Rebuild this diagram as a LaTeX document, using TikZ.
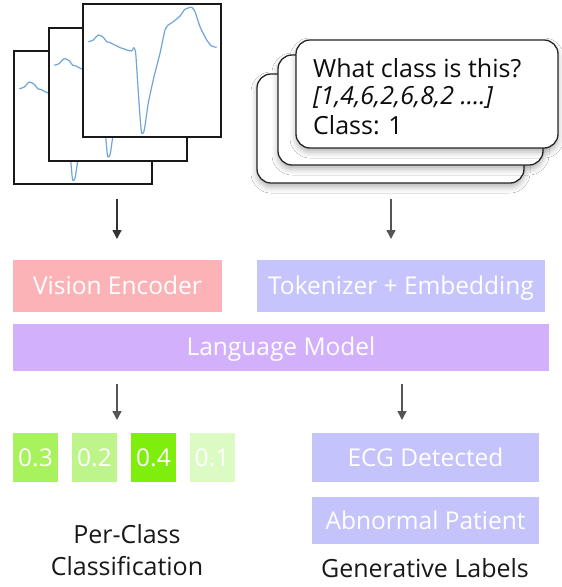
\documentclass[tikz,border=0pt]{standalone}
\usepackage{fontspec}
\setmainfont{Open Sans}
\usetikzlibrary{arrows.meta,shadows.blur}
\definecolor{pinkbox}{HTML}{FBB3B8}
\definecolor{tokbox}{HTML}{C6C4FD}
\definecolor{lmbox}{HTML}{D3B0FB}
\definecolor{genbox}{HTML}{C4C3FC}
\definecolor{gA}{HTML}{A8F25E}
\definecolor{gB}{HTML}{BDF58A}
\definecolor{gC}{HTML}{80EE0C}
\definecolor{gD}{HTML}{DBFBC3}
\definecolor{ecgblue}{HTML}{6FA6DA}
\definecolor{arrgray}{HTML}{555555}
\newcommand\ecgtrace{plot[smooth,tension=0.35] coordinates {(5.3,37.7) (8,37) (10.3,36) (13,33) (15.3,31) (17,31.5) (20.3,33.3) (23.7,37.7) (27,38.5) (30.3,40.3) (34,42) (37,43.7) (40,44.5) (43.7,46) (48.7,47) (51,43.7) (52.7,49.3) (54.7,79) (57,112.7) (58.7,129.3) (61.3,126) (65.3,99) (71,72.7) (77,49.3) (82,26) (85.3,21) (90.3,17.7) (97,12) (102,5.3) (108.7,3.3) (112,7.7) (117,22.7) (123.7,36) (128,41.5) (130.3,42.7) (133.7,43.3)}}
\begin{document}
\begin{tikzpicture}[x=1pt,y=-1pt,
  panel/.style={fill=white, minimum width=138pt, minimum height=133pt, inner sep=0pt, anchor=north west},
  frame/.style={draw=black!90, line width=2pt},
  ecg/.style={draw=ecgblue, line width=1.2pt, line join=round},
  card/.style={draw=black!85, line width=1.3pt, fill=white, rounded corners=14pt, inner sep=0pt,
    blur shadow={shadow xshift=0pt, shadow yshift=-4pt, shadow blur radius=6pt, shadow opacity=30}},
  cbox/.style={inner sep=0pt, text=white, font=\fontsize{24.5}{28}\selectfont, text height=17.5pt, text depth=0pt},
  arr/.style={draw=arrgray, line width=1.5pt, -{Triangle[length=9pt,width=9pt]}},
  lbl/.style={font=\fontsize{25}{30}\selectfont, text=black!90, anchor=base, inner sep=0pt},
  qline/.style={font=\fontsize{25}{30}\selectfont, text=black!95, anchor=base west, inner sep=0pt}
]
\useasboundingbox[fill=white] (0,0) rectangle (562,587);

% ECG panels
\foreach \nm/\px/\py in {p1/14/51, p2/49/27.5, p3/83/4}{
  \node[panel] (\nm) at (\px,\py) {};
  \begin{scope}
    \clip (\nm.north west) rectangle (\nm.south east);
    \draw[ecg, shift={(\px,\py)}] \ecgtrace;
  \end{scope}
  \draw[frame] (\nm.north west) rectangle (\nm.south east);
}

% prompt cards
\node[card, minimum width=267pt, minimum height=109pt] (c1) at (390.5,128.5) {};
\node[card, minimum width=265pt, minimum height=110pt] (c2) at (410.5,110) {};
\node[card, minimum width=262pt, minimum height=108pt] (c3) at (427,94) {};
\node[qline] (q1) at (313,77) {What class is this?};
\node[qline] (q2) at (313,104) {\textit{[1,4,6,2,6,8,2 ....]}};
\node[qline] (q3) at (313,134) {Class: 1};

% encoder boxes
\node[cbox, fill=pinkbox, minimum width=209pt, minimum height=52pt] (ve) at (117.5,286) {Vision Encoder};
\node[cbox, fill=tokbox, minimum width=288pt, minimum height=52pt] (tok) at (401,286) {Tokenizer + Embedding};
\node[cbox, fill=lmbox, minimum width=536pt, minimum height=47pt] (lm) at (281,347) {Language Model};

% class probability boxes
\node[cbox, fill=gA, minimum width=45pt, minimum height=49pt] (b1) at (35.5,457.5) {0.3};
\node[cbox, fill=gB, minimum width=45pt, minimum height=49pt] (b2) at (94.5,457.5) {0.2};
\node[cbox, fill=gC, minimum width=45pt, minimum height=49pt] (b3) at (153.5,457.5) {0.4};
\node[cbox, fill=gD, minimum width=45pt, minimum height=49pt] (b4) at (212,457.5) {0.1};

% generative labels
\node[cbox, fill=genbox, minimum width=227pt, minimum height=49pt] (g1) at (425.5,457.5) {ECG Detected};
\node[cbox, fill=genbox, minimum width=227pt, minimum height=47pt] (g2) at (425.5,520.5) {Abnormal Patient};

% captions
\node[lbl] (cap1) at (127,543) {Per-Class};
\node[lbl] (cap2) at (127,575) {Classification};
\node[lbl] (cap3) at (425,577) {Generative Labels};

% arrows
\coordinate (a1s) at (117,199);
\coordinate (a1e) at (117,239);
\coordinate (a2s) at (391,199);
\coordinate (a2e) at (391,239);
\coordinate (a3s) at (117,384);
\coordinate (a3e) at (117,420);
\coordinate (a4s) at (402,384);
\coordinate (a4e) at (402,420);
\draw[arr, draw=black!80] (a1s) -- (a1e);
\draw[arr] (a2s) -- (a2e);
\draw[arr] (a3s) -- (a3e);
\draw[arr] (a4s) -- (a4e);
\end{tikzpicture}
\end{document}
